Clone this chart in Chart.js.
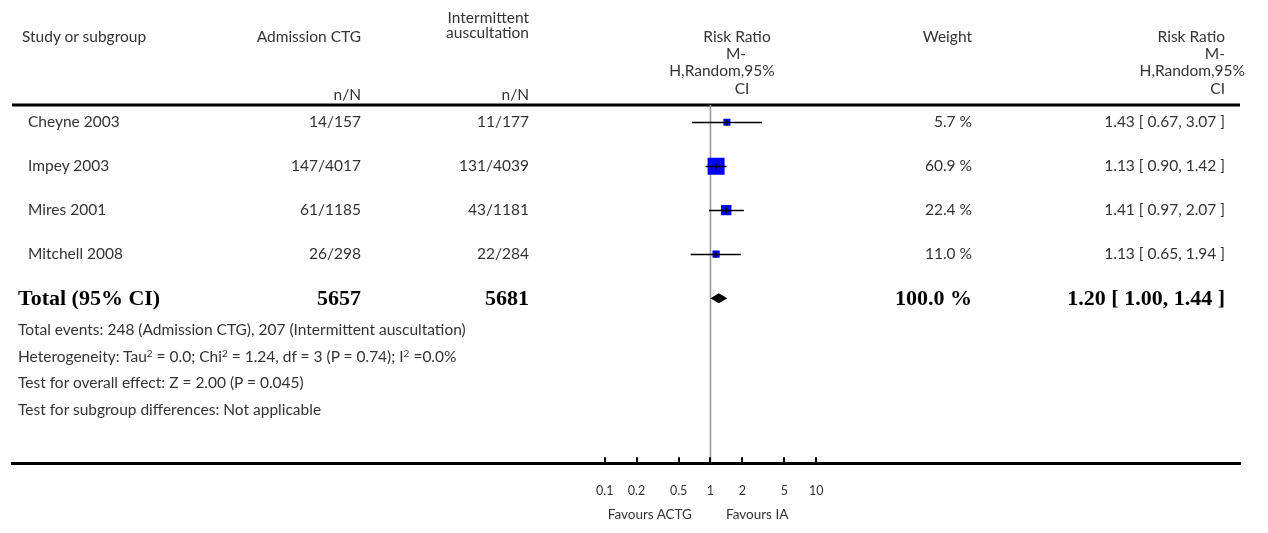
<!DOCTYPE html>
<html>
<head>
<meta charset="utf-8">
<script src="https://cdn.jsdelivr.net/npm/chart.js@4.4.1/dist/chart.umd.min.js"></script>
<style>
  body { margin: 0; background: #fff; }
  #wrap { position: relative; width: 1268px; height: 533px; font-family: Lato, 'Open Sans', sans-serif; color: #333; }
  #forest { position: absolute; left: 0; top: 0; }
  .t { position: absolute; white-space: nowrap; font-size: 15.5px; line-height: 1; transform: translateY(-50%); }
  .t.r { transform: translate(-100%, -50%); }
  .t.c { transform: translate(-50%, -50%); }
  .t.b { font-family: 'Liberation Serif', 'DejaVu Serif', serif; font-weight: bold; font-size: 22px; color: #000; }
  .t.s { font-size: 13.5px; }
  sup { font-size: 10px; line-height: 0; vertical-align: 5px; }
</style>
</head>
<body>
<div id="wrap">
  <canvas id="forest" width="1268" height="533"></canvas>
</div>
<script>
// studies and their counts
const studies = ['Cheyne 2003', 'Impey 2003', 'Mires 2001', 'Mitchell 2008'];
const ctgEvents = [14, 147, 61, 26];
const ctgTotals = [157, 4017, 1185, 298];
const iaEvents = [11, 131, 43, 22];
const iaTotals = [177, 4039, 1181, 284];
const weights = [5.7, 60.9, 22.4, 11.0];

// risk ratios with 95% CI
const riskRatios = [1.43, 1.13, 1.41, 1.13];
const ciLower = [0.67, 0.90, 0.97, 0.65];
const ciUpper = [3.07, 1.42, 2.07, 1.94];

// pooled result
const totalCtg = 5657;
const totalIa = 5681;
const totalWeight = 100.0;
const pooledRR = 1.20;
const pooledCI = [1.00, 1.44];

// x axis
const axisTicks = [0.1, 0.2, 0.5, 1, 2, 5, 10];
const axisLabels = ['0.1', '0.2', '0.5', '1', '2', '5', '10'];

const footnotes = [
  'Total events: 248 (Admission CTG), 207 (Intermittent auscultation)',
  'Heterogeneity: Tau<sup>2</sup> = 0.0; Chi<sup>2</sup> = 1.24, df = 3 (P = 0.74); I<sup>2</sup> =0.0%',
  'Test for overall effect: Z = 2.00 (P = 0.045)',
  'Test for subgroup differences: Not applicable'
];

// layout of the log axis: where 0.1 sits and how wide one decade is
const AREA_LEFT = 4, AREA_RIGHT = 1240;
const PX_AT_TENTH = 600.5, PX_PER_DECADE = 106.5;
const logMin = -1 - (PX_AT_TENTH - AREA_LEFT) / PX_PER_DECADE;
const logMax = logMin + (AREA_RIGHT - AREA_LEFT) / PX_PER_DECADE;

// table columns
const COL_STUDY = 28, COL_CTG = 361, COL_IA = 529, COL_WEIGHT = 972, COL_RR = 1225;
const HEAD_Y = 37;
const rowY = i => 122 + i * 44;

const wrap = document.getElementById('wrap');
function put(html, x, y, cls) {
  const el = document.createElement('div');
  el.className = 't ' + (cls || '');
  el.innerHTML = html;
  el.style.left = x + 'px';
  el.style.top = y + 'px';
  wrap.appendChild(el);
}

// header
put('Study or subgroup', 22, HEAD_Y);
put('Admission CTG', COL_CTG, HEAD_Y, 'r');
put('Intermittent', COL_IA, 18, 'r');
put('auscultation', COL_IA, 33, 'r');
put('n/N', COL_CTG, 95, 'r');
put('n/N', COL_IA, 95, 'r');
put('Risk Ratio', 737, HEAD_Y, 'c');
put('M-', 736, 54, 'c');
put('H,Random,95%', 722, 71, 'c');
put('CI', 742, 89, 'c');
put('Weight', COL_WEIGHT, HEAD_Y, 'r');
put('Risk Ratio', COL_RR, HEAD_Y, 'r');
put('M-', COL_RR, 54, 'r');
put('H,Random,95%', 1245, 71, 'r');
put('CI', COL_RR, 89, 'r');

const fmt = v => v.toFixed(2);
studies.forEach((name, i) => {
  const y = rowY(i);
  put(name, COL_STUDY, y);
  put(ctgEvents[i] + '/' + ctgTotals[i], COL_CTG, y, 'r');
  put(iaEvents[i] + '/' + iaTotals[i], COL_IA, y, 'r');
  put(weights[i].toFixed(1) + ' %', COL_WEIGHT, y, 'r');
  put(fmt(riskRatios[i]) + ' [ ' + fmt(ciLower[i]) + ', ' + fmt(ciUpper[i]) + ' ]', COL_RR, y, 'r');
});

const yTotal = rowY(studies.length);
put('Total (95% CI)', 18, yTotal, 'b');
put(String(totalCtg), COL_CTG, yTotal, 'b r');
put(String(totalIa), COL_IA, yTotal, 'b r');
put(totalWeight.toFixed(1) + ' %', COL_WEIGHT, yTotal, 'b r');
put(fmt(pooledRR) + ' [ ' + fmt(pooledCI[0]) + ', ' + fmt(pooledCI[1]) + ' ]', COL_RR, yTotal, 'b r');

footnotes.forEach((txt, i) => put(txt, 18, 330 + i * 26.7));

put('Favours ACTG', 692, 515, 's r');
put('Favours IA', 726, 515, 's');

// box side grows with the square root of the weight, never below 7px
const boxSide = w => Math.max(7, 2.18 * Math.sqrt(w));

const forestPlugin = {
  id: 'forest',
  beforeDatasetsDraw(chart) {
    const { ctx, chartArea: a, scales: { x } } = chart;
    ctx.save();
    // header rule
    ctx.strokeStyle = '#000';
    ctx.lineWidth = 3;
    ctx.beginPath();
    ctx.moveTo(a.left, a.top);
    ctx.lineTo(a.right, a.top);
    ctx.stroke();
    // line of no effect
    const x1 = x.getPixelForValue(1);
    ctx.strokeStyle = '#9a9a9a';
    ctx.lineWidth = 1.6;
    ctx.beginPath();
    ctx.moveTo(x1, a.top);
    ctx.lineTo(x1, a.bottom);
    ctx.stroke();
    // tick marks point up from the axis
    ctx.strokeStyle = '#000';
    ctx.lineWidth = 2;
    axisTicks.forEach(t => {
      const px = Math.round(x.getPixelForValue(t));
      ctx.beginPath();
      ctx.moveTo(px, a.bottom);
      ctx.lineTo(px, a.bottom - 6);
      ctx.stroke();
    });
    ctx.restore();
  },
  afterDatasetsDraw(chart) {
    const { ctx, scales: { x, y } } = chart;
    ctx.save();
    ctx.strokeStyle = '#000';
    ctx.lineWidth = 1.5;
    studies.forEach((_, i) => {
      const py = Math.round(y.getPixelForValue(i)) + 0.5;
      ctx.beginPath();
      ctx.moveTo(x.getPixelForValue(ciLower[i]), py);
      ctx.lineTo(x.getPixelForValue(ciUpper[i]), py);
      const pe = x.getPixelForValue(riskRatios[i]);
      ctx.moveTo(pe, py - 3);
      ctx.lineTo(pe, py + 3);
      ctx.stroke();
    });
    // pooled diamond
    const dy = y.getPixelForValue(studies.length);
    ctx.fillStyle = '#000';
    ctx.beginPath();
    ctx.moveTo(x.getPixelForValue(pooledCI[0]), dy);
    ctx.lineTo(x.getPixelForValue(pooledRR), dy - 5);
    ctx.lineTo(x.getPixelForValue(pooledCI[1]), dy);
    ctx.lineTo(x.getPixelForValue(pooledRR), dy + 5);
    ctx.closePath();
    ctx.fill();
    ctx.restore();
  }
};

new Chart(document.getElementById('forest'), {
  type: 'scatter',
  data: {
    datasets: [{
      data: riskRatios.map((rr, i) => ({ x: rr, y: i })),
      pointStyle: 'rect',
      pointRadius: c => boxSide(weights[c.dataIndex]) / Math.SQRT2,
      backgroundColor: '#0000ff',
      borderWidth: 0
    }]
  },
  options: {
    responsive: false,
    animation: false,
    events: [],
    layout: { padding: { left: AREA_LEFT, right: 1268 - AREA_RIGHT, top: 105, bottom: 14.8 } },
    plugins: { legend: { display: false }, tooltip: { enabled: false } },
    scales: {
      x: {
        type: 'logarithmic',
        bounds: 'data',
        min: Math.pow(10, logMin),
        max: Math.pow(10, logMax),
        afterBuildTicks: s => { s.ticks = axisTicks.map(v => ({ value: v })); },
        ticks: {
          autoSkip: false,
          maxRotation: 0,
          padding: 20,
          color: '#333',
          font: { family: 'Lato', size: 12.5 },
          callback: (v, i) => axisLabels[i]
        },
        grid: { display: true, drawOnChartArea: false, drawTicks: false, color: 'rgba(0,0,0,0)' },
        border: { display: true, color: '#000', width: 3 }
      },
      y: { type: 'linear', display: false, reverse: true, min: -0.39, max: 7.75 }
    }
  },
  plugins: [forestPlugin]
});
</script>
</body>
</html>
